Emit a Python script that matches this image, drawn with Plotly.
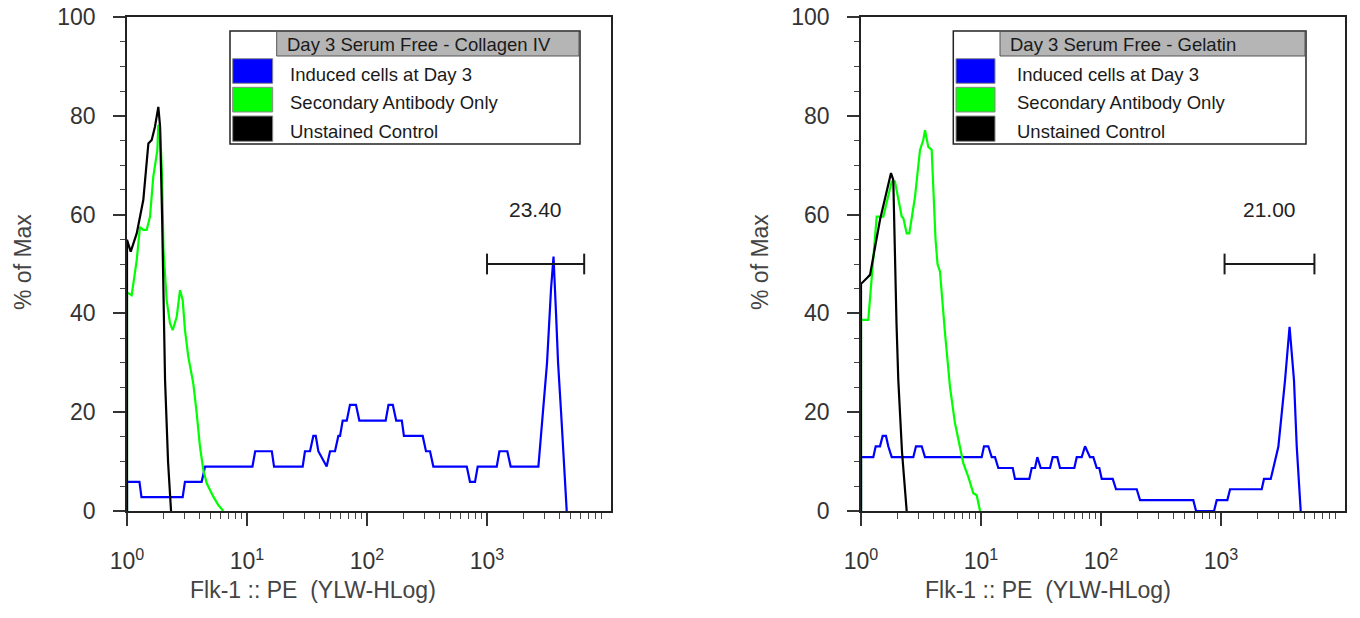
import plotly.graph_objects as go
import math

# ---------------- data ----------------
panel_titles = ["Day 3 Serum Free - Collagen IV", "Day 3 Serum Free - Gelatin"]
series_names = ["Induced cells at Day 3", "Secondary Antibody Only", "Unstained Control"]
series_colors = ["#0000ff", "#00ff00", "#000000"]
gate_labels = ["23.40", "21.00"]

# Collagen IV panel (x = Flk-1 PE intensity, y = % of Max)
col_blue_x = [1.0, 1.0, 1.27, 1.32, 2.91, 3.04, 4.19, 4.47, 11.1, 11.7, 16.1, 16.8, 29.1, 30.4,
              33.5, 35.7, 37.4, 39.3, 46.1, 49.2, 54.1, 57.7, 59.6, 62.7, 67.8, 72.1, 80.9, 86.3,
              143, 151, 164, 175, 195, 203, 291, 310, 335, 357, 678, 721, 794, 836, 1205, 1268,
              1476, 1574, 2679, 2930, 3162, 3415, 3581, 3758, 3908, 4140, 4385, 4613]
col_blue_y = [0, 5.9, 5.9, 2.8, 2.8, 5.9, 5.9, 9.0, 9.0, 12.1, 12.1, 9.0, 9.0, 12.1,
              12.1, 15.2, 15.2, 12.1, 9.0, 12.1, 12.1, 15.2, 15.2, 18.3, 18.3, 21.5, 21.5, 18.3,
              18.3, 21.5, 21.5, 18.3, 18.3, 15.2, 15.2, 12.1, 12.1, 9.0, 9.0, 5.9, 5.9, 9.0, 9.0, 12.1,
              12.1, 9.0, 9.0, 20, 30, 45, 51.5, 40, 30, 20, 8, 0]
col_green_x = [1.0, 1.0, 1.026, 1.094, 1.205, 1.283, 1.368, 1.459, 1.555, 1.656, 1.789, 1.824,
               1.884, 1.959, 2.014, 2.141, 2.281, 2.403, 2.596, 2.765, 2.911, 3.042, 3.243, 3.568,
               3.808, 4.057, 4.324, 4.616, 5.239, 5.763, 6.346]
col_green_y = [0, 44.0, 44.1, 43.7, 50.8, 57.5, 56.9, 56.9, 59.6, 67.7, 73.0, 78.1,
               77.8, 68.0, 52.8, 42.7, 38.0, 36.6, 39.3, 44.7, 42.7, 36.6, 31.2, 25.8,
               19.8, 13.0, 8.3, 5.6, 2.9, 1.2, 0]
col_black_x = [1.0, 1.0, 1.074, 1.205, 1.368, 1.459, 1.507, 1.607, 1.710, 1.824, 1.884, 1.959,
               2.075, 2.198, 2.328]
col_black_y = [0, 54.9, 52.5, 56.2, 63.0, 71.0, 74.4, 75.1, 77.8, 81.8, 78.0, 60.0,
               26.5, 10.0, 0]
col_gate = [1000, 6450]

# Gelatin panel
gel_blue_x = [1.0, 1.0, 1.266, 1.326, 1.439, 1.516, 1.615, 1.688, 1.803, 2.728, 2.872, 3.205, 3.414,
              10.13, 10.59, 11.50, 12.28, 13.08, 13.94, 18.38, 19.20, 25.26, 26.45, 28.18, 29.46,
              31.45, 37.58, 39.58, 43.25, 45.50, 59.93, 62.76, 69.02, 73.6, 80.9, 86.3, 92.1, 96.8,
              101.4, 125.2, 133.4, 198.4, 211.3, 587.5, 619.4, 874.6, 920.4, 1129, 1189, 2183, 2280,
              2594, 2729, 3003, 3206, 3415, 3724, 4055, 4275, 4613]
gel_blue_y = [0, 10.9, 10.9, 13.1, 13.1, 15.2, 15.2, 13.1, 10.9, 10.9, 13.1, 13.1, 10.9,
              10.9, 13.1, 13.1, 10.9, 10.9, 8.7, 8.7, 6.5, 6.5, 8.7, 8.7, 10.9,
              8.7, 8.7, 10.9, 10.9, 8.7, 8.7, 10.9, 10.9, 13.1, 10.9, 10.9, 8.7, 8.7,
              6.5, 6.5, 4.4, 4.4, 2.2, 2.2, 0, 0, 2.2, 2.2, 4.4, 4.4, 6.5,
              6.5, 8.7, 13.0, 19.8, 26.5, 37.3, 26.5, 13.0, 0]
gel_green_x = [1.0, 1.0, 1.150, 1.351, 1.534, 1.803, 1.919, 2.046, 2.184, 2.252, 2.403, 2.527,
               2.646, 2.818, 3.102, 3.304, 3.414, 3.638, 3.882, 4.178, 4.341, 4.550, 5.012,
               5.521, 6.067, 7.121, 7.839, 8.630, 9.204, 9.817]
gel_green_y = [0, 38.7, 38.7, 59.6, 59.6, 66.7, 66.7, 63.0, 59.6, 59.3, 56.2, 56.2,
               59.3, 63.6, 73.1, 75.1, 77.1, 73.7, 73.1, 55.0, 50.0, 48.5, 36.0,
               25.0, 17.8, 9.7, 6.9, 3.6, 3.2, 0]
gel_black_x = [1.0, 1.0, 1.013, 1.116, 1.189, 1.439, 1.778, 1.858, 1.919, 1.976, 2.046, 2.196, 2.403]
gel_black_y = [0, 46.1, 46.1, 47.1, 47.8, 58.9, 68.4, 67.0, 50.1, 38.0, 26.5, 12.0, 0]
gel_gate = [1070, 6000]

gate_level = 50
x_tickvals = [1, 10, 100, 1000]
x_ticktext = ["10<sup>0</sup>", "10<sup>1</sup>", "10<sup>2</sup>", "10<sup>3</sup>"]
x_minor = [m * 10 ** k for k in range(4) for m in range(2, 10)]
y_tickvals = [0, 20, 40, 60, 80, 100]
x_title = "Flk-1 :: PE \u00a0(YLW-HLog)"
y_title = "% of Max"

# ---------------- layout helpers ----------------
W, H = 1360, 618
def PX(x):
    return x / W
def PY(y):
    return 1 - y / H

FONT = "Arial, 'Liberation Sans', sans-serif"
panels = [
    dict(series=[(col_blue_x, col_blue_y), (col_green_x, col_green_y), (col_black_x, col_black_y)],
         gate=col_gate, left=127, right=611, legbox=(230, 31, 580, 144), header_x0=276.7,
         sw=(232.7, 272.7), head_tx=285, item_tx=288, xtitle_c=313, ytitle_c=23),
    dict(series=[(gel_blue_x, gel_blue_y), (gel_green_x, gel_green_y), (gel_black_x, gel_black_y)],
         gate=gel_gate, left=861, right=1345, legbox=(953.3, 31, 1306, 144), header_x0=1000,
         sw=(956, 995), head_tx=1008, item_tx=1015, xtitle_c=1048, ytitle_c=760),
]
plot_top, plot_bottom = 17, 511

fig = go.Figure()
shapes = []
annotations = []

for i, p in enumerate(panels):
    xa = "x" if i == 0 else "x2"
    ya = "y" if i == 0 else "y2"
    for (sx, sy), name, color in zip(p["series"], series_names, series_colors):
        fig.add_trace(go.Scatter(x=sx, y=sy, mode="lines", name=name, xaxis=xa, yaxis=ya,
                                 line=dict(color=color, width=2.2), showlegend=False,
                                 hoverinfo="skip"))
    g0, g1 = p["gate"]
    fig.add_trace(go.Scatter(x=[g0, g0, None, g0, g1, None, g1, g1],
                             y=[gate_level + 2.1, gate_level - 2.1, None, gate_level, gate_level,
                                None, gate_level + 2.1, gate_level - 2.1],
                             mode="lines", line=dict(color="#1a1a1a", width=2),
                             xaxis=xa, yaxis=ya, showlegend=False, hoverinfo="skip"))
    annotations.append(dict(x=(math.log10(g0) + math.log10(g1)) / 2, y=gate_level + 11,
                            xref=xa, yref=ya, text=gate_labels[i], showarrow=False,
                            font=dict(family=FONT, size=21, color="#222")))

    # axis titles
    annotations.append(dict(x=PX(p["xtitle_c"]), y=PY(590), xref="paper", yref="paper",
                            text=x_title, showarrow=False, xanchor="center", yanchor="middle",
                            font=dict(family=FONT, size=23, color="#444")))
    annotations.append(dict(x=PX(p["ytitle_c"]), y=PY(262), xref="paper", yref="paper",
                            text=y_title, showarrow=False, textangle=-90, xanchor="center",
                            yanchor="middle", font=dict(family=FONT, size=23, color="#444")))

    # legend box
    lx0, ly0, lx1, ly1 = p["legbox"]
    shapes.append(dict(type="rect", xref="paper", yref="paper", x0=PX(lx0), x1=PX(lx1),
                       y0=PY(ly0), y1=PY(ly1), fillcolor="white",
                       line=dict(color="#222", width=1.5)))
    shapes.append(dict(type="rect", xref="paper", yref="paper", x0=PX(p["header_x0"]), x1=PX(lx1 - 1),
                       y0=PY(ly0 + 0.5), y1=PY(56), fillcolor="#b5b5b5",
                       line=dict(color="#555", width=1)))
    annotations.append(dict(x=PX(p["head_tx"]), y=PY(45), xref="paper", yref="paper",
                            text=panel_titles[i], showarrow=False, xanchor="left",
                            yanchor="middle", font=dict(family=FONT, size=18.5, color="#1a1a1a")))
    sw0, sw1 = p["sw"]
    rows = [(58.7, 83.3), (87.3, 112), (116, 141.3)]
    for (r0, r1), name, color in zip(rows, series_names, series_colors):
        shapes.append(dict(type="rect", xref="paper", yref="paper", x0=PX(sw0), x1=PX(sw1),
                           y0=PY(r0), y1=PY(r1), fillcolor=color,
                           line=dict(color="#888", width=1)))
        annotations.append(dict(x=PX(p["item_tx"]), y=PY((r0 + r1) / 2 + 3), xref="paper",
                                yref="paper", text=name, showarrow=False, xanchor="left",
                                yanchor="middle", font=dict(family=FONT, size=18.5, color="#1a1a1a")))

def xaxis_cfg(left, right):
    return dict(type="log", range=[0, 4.033], domain=[PX(left), PX(right)],
                showline=True, linecolor="#222", linewidth=1.5, mirror=True,
                ticks="outside", ticklen=13, tickwidth=1.5, tickcolor="#333",
                tickmode="array", tickvals=x_tickvals, ticktext=x_ticktext,
                tickfont=dict(family=FONT, size=23, color="#333"),
                ticklabelstandoff=16,
                showgrid=False, zeroline=False, automargin=False,
                minor=dict(ticks="outside", ticklen=6, tickwidth=1, tickcolor="#444",
                           tickmode="array", tickvals=x_minor, showgrid=False),
                layer="above traces")

def yaxis_cfg(anchor):
    return dict(range=[0, 100], domain=[PY(plot_bottom), PY(plot_top)], anchor=anchor,
                showline=True, linecolor="#222", linewidth=1.5, mirror=True,
                ticks="outside", ticklen=12, tickwidth=1.5, tickcolor="#333",
                tickmode="array", tickvals=y_tickvals,
                tickfont=dict(family=FONT, size=23, color="#333"),
                ticklabelstandoff=13,
                showgrid=False, zeroline=False, automargin=False,
                minor=dict(ticks="outside", ticklen=5, tickwidth=1, tickcolor="#444",
                           dtick=5, showgrid=False),
                layer="above traces")

fig.update_layout(
    width=W, height=H, margin=dict(l=0, r=0, t=0, b=0),
    paper_bgcolor="white", plot_bgcolor="white",
    xaxis=dict(xaxis_cfg(panels[0]["left"], panels[0]["right"]), anchor="y"),
    xaxis2=dict(xaxis_cfg(panels[1]["left"], panels[1]["right"]), anchor="y2"),
    yaxis=yaxis_cfg("x"),
    yaxis2=yaxis_cfg("x2"),
    shapes=shapes, annotations=annotations, showlegend=False,
)

fig.write_html("out.html", config={"displayModeBar": False},
               post_script="document.body.style.margin='0';document.body.style.overflow='hidden';")
